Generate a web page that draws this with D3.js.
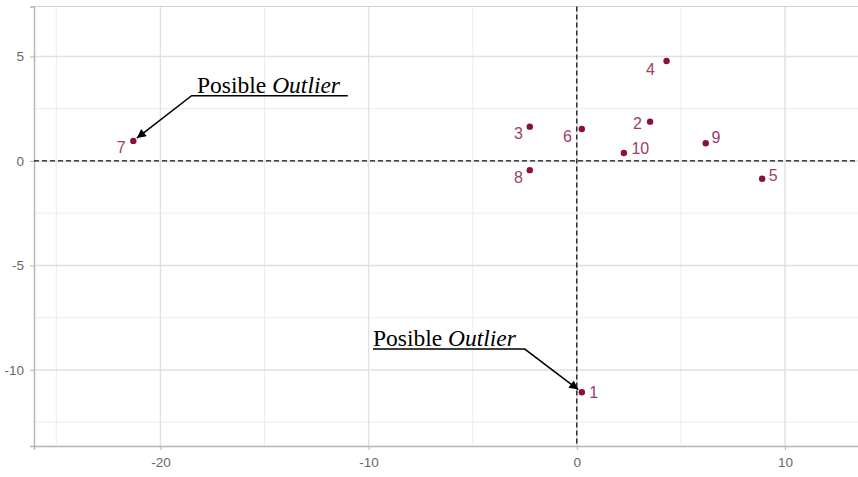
<!DOCTYPE html>
<html>
<head>
<meta charset="utf-8">
<script src="https://cdn.jsdelivr.net/npm/d3@7"></script>
<style>
  html, body { margin: 0; padding: 0; background: #fff; }
  svg { display: block; }
</style>
</head>
<body>
<script>
// Observation scores: id, first component (x) and second component (y)
const ids = ["1", "2", "3", "4", "5", "6", "7", "8", "9", "10"];
const xValues = [0.24, 3.52, -2.26, 4.31, 8.90, 0.24, -21.30, -2.26, 6.19, 2.26];
const yValues = [-11.07, 1.88, 1.64, 4.78, -0.85, 1.53, 0.96, -0.44, 0.85, 0.38];

// Axis ticks
const xTicks = [-20, -10, 0, 10];
const yTicks = [-10, -5, 0, 5];
const xMinor = [-25, -15, -5, 5];
const yMinor = [-12.5, -7.5, -2.5, 2.5];

// Label offsets (px) so the ids sit clear of their points
const labelNudge = [[12, 0], [-12.6, 1.6], [-11.2, 6.6], [-16, 8.5], [11, -3.7],
                    [-14.3, 7.7], [-12, 6.5], [-11.2, 7.7], [10.2, -5.3], [16.5, -4.2]];

// Callouts: underline from lineStart to elbow, then an arrow to the target point
const calloutText = ["Posible ", "Posible "];
const calloutItalic = ["Outlier", "Outlier"];
const calloutTarget = [6, 0];
const calloutTextAt = [[-18.24, 3.26], [-9.79, -8.85]];
const calloutLineStart = [[-11.0, 3.12], [-9.79, -9.0]];
const calloutElbow = [[-18.5, 3.12], [-2.5, -9.0]];

const W = 858, H = 477;
const svg = d3.select("body").append("svg").attr("width", W).attr("height", H);

const x = d3.scaleLinear().domain([-26.07, 13.6]).range([34, 860]);
const y = d3.scaleLinear().domain([-13.64, 7.39]).range([446, 6.5]);

const [x0, x1] = x.range();
const [y0, y1] = y.range();

// panel grid
const grid = svg.append("g");
grid.selectAll(".minor-x").data(xMinor).join("line")
  .attr("x1", d => x(d)).attr("x2", d => x(d)).attr("y1", y1).attr("y2", y0)
  .attr("stroke", "#ececec").attr("stroke-width", 1);
grid.selectAll(".minor-y").data(yMinor).join("line")
  .attr("x1", x0).attr("x2", x1).attr("y1", d => y(d)).attr("y2", d => y(d))
  .attr("stroke", "#ececec").attr("stroke-width", 1);
grid.selectAll(".major-x").data(xTicks).join("line")
  .attr("x1", d => x(d)).attr("x2", d => x(d)).attr("y1", y1).attr("y2", y0)
  .attr("stroke", "#e0e0e0").attr("stroke-width", 1.4);
grid.selectAll(".major-y").data(yTicks).join("line")
  .attr("x1", x0).attr("x2", x1).attr("y1", d => y(d)).attr("y2", d => y(d))
  .attr("stroke", "#e0e0e0").attr("stroke-width", 1.4);

// panel border (top) and axis lines (left, bottom)
svg.append("line").attr("x1", x0).attr("x2", x1).attr("y1", y1).attr("y2", y1)
  .attr("stroke", "#d2d2d2").attr("stroke-width", 1.2);

const xAxis = svg.append("g").attr("transform", `translate(0,${y0})`)
  .call(d3.axisBottom(x).tickValues(xTicks).tickSize(4).tickPadding(7).tickFormat(d3.format("d")));
const yAxis = svg.append("g").attr("transform", `translate(${x0},0)`)
  .call(d3.axisLeft(y).tickValues(yTicks).tickSize(4).tickPadding(6).tickFormat(d3.format("d")));
[xAxis, yAxis].forEach(a => {
  a.select(".domain").attr("stroke", "#b5b5b5").attr("stroke-width", 1.4);
  a.selectAll(".tick line").attr("stroke", "#b5b5b5").attr("stroke-width", 1);
  a.selectAll(".tick text").attr("fill", "#666")
    .style("font-family", "'Liberation Sans', Arial, sans-serif").style("font-size", "13.5px");
});
// d3 uses a true minus sign; keep a plain hyphen
xAxis.selectAll(".tick text").text(d => String(d));
yAxis.selectAll(".tick text").text(d => String(d));

// reference lines at zero
svg.append("line").attr("x1", x0).attr("x2", x1).attr("y1", y(0)).attr("y2", y(0))
  .attr("stroke", "#111").attr("stroke-width", 1.3).attr("stroke-dasharray", "5,3");
svg.append("line").attr("x1", x(0)).attr("x2", x(0)).attr("y1", y1).attr("y2", y0)
  .attr("stroke", "#111").attr("stroke-width", 1.3).attr("stroke-dasharray", "5,3");

// points
const pts = ids.map((id, i) => ({ id, x: xValues[i], y: yValues[i], nudge: labelNudge[i] }));
svg.append("g").selectAll("circle").data(pts).join("circle")
  .attr("cx", d => x(d.x)).attr("cy", d => y(d.y)).attr("r", 3.2)
  .attr("fill", "#8a0f3c");

// id labels
svg.append("g").selectAll("text").data(pts).join("text")
  .attr("x", d => x(d.x) + d.nudge[0]).attr("y", d => y(d.y) + d.nudge[1])
  .attr("text-anchor", "middle").attr("dominant-baseline", "central")
  .attr("fill", "#9c3d6c")
  .style("font-family", "'Liberation Sans', Arial, sans-serif").style("font-size", "16px")
  .text(d => d.id);

// callouts
const defs = svg.append("defs");
defs.append("marker").attr("id", "arrowhead").attr("viewBox", "0 0 10 10")
  .attr("refX", 10).attr("refY", 5).attr("markerWidth", 11).attr("markerHeight", 9)
  .attr("markerUnits", "userSpaceOnUse").attr("orient", "auto")
  .append("path").attr("d", "M0,0 L10,5 L0,10 Z").attr("fill", "#000");

calloutTarget.forEach((ti, i) => {
  const p = pts[ti];
  const px = x(p.x), py = y(p.y);
  const ex = x(calloutElbow[i][0]), ey = y(calloutElbow[i][1]);
  const dx = ex - px, dy = ey - py, len = Math.hypot(dx, dy);
  const gap = 4.5;
  const tx = px + dx / len * gap, ty = py + dy / len * gap;
  svg.append("path")
    .attr("d", `M${x(calloutLineStart[i][0])},${y(calloutLineStart[i][1])} L${ex},${ey} L${tx},${ty}`)
    .attr("fill", "none").attr("stroke", "#000").attr("stroke-width", 1.5)
    .attr("marker-end", "url(#arrowhead)");
  const t = svg.append("text")
    .attr("x", x(calloutTextAt[i][0])).attr("y", y(calloutTextAt[i][1]))
    .attr("fill", "#000")
    .style("font-family", "'Liberation Serif', 'Times New Roman', serif").style("font-size", "23.5px");
  t.append("tspan").text(calloutText[i]);
  t.append("tspan").style("font-style", "italic").text(calloutItalic[i]);
});
</script>
</body>
</html>
